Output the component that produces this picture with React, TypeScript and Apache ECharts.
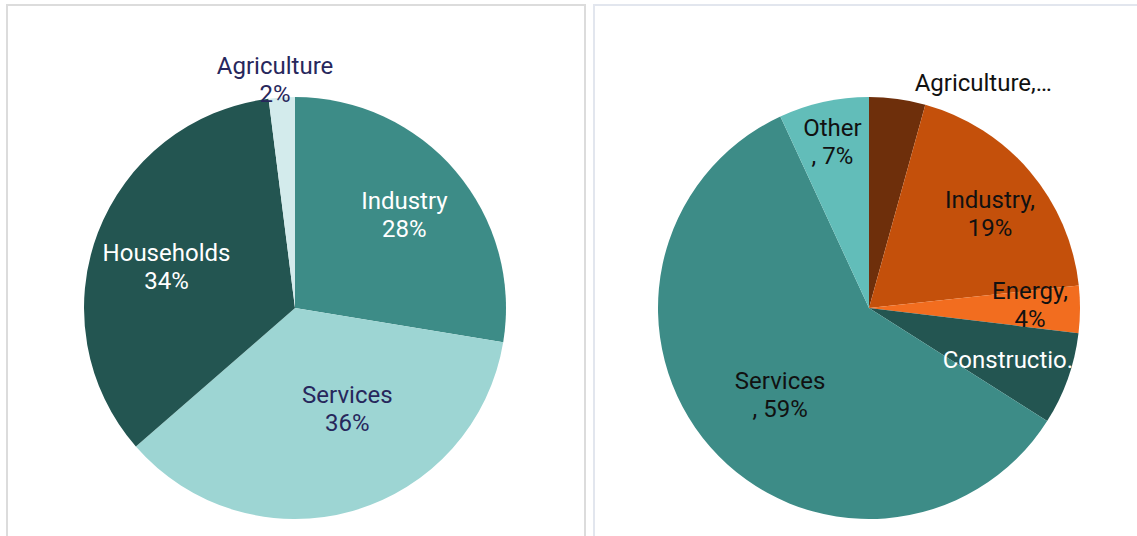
import React, { useEffect, useRef } from "react";
import * as echarts from "echarts";

// Left chart: energy consumption by sector
const leftCategories = ["Industry", "Services", "Households", "Agriculture"];
const leftValues = [27.6, 36.0, 34.4, 2.0];
const leftColors = ["#3d8c87", "#9dd5d3", "#235551", "#d3ebec"];
const leftLabelColors = ["#ffffff", "#27275c", "#ffffff", "#27275c"];
// label placement: fraction of radius, angular shift (deg) from slice middle
const leftLabelRadius = [0.68, 0.54, 0.64, 1.085];
const leftLabelShift = [0, -11.5, -3, -1.4];

// Right chart
const rightCategories = ["Agriculture", "Industry", "Energy", "Construction", "Services", "Other"];
const rightValues = [4.3, 19, 3.6, 7.1, 59.1, 6.9];
const rightColors = ["#6e2f0b", "#c4500b", "#f26d1f", "#235551", "#3d8c87", "#62bdb9"];
const rightLabelColors = ["#111111", "#111111", "#111111", "#ffffff", "#111111", "#111111"];
// how the label wraps: "comma" => "Name,\nX%", "lead" => "Name\n, X%", "trunc" => truncated single line
const rightLabelStyle = ["trunc", "comma", "comma", "trunc", "lead", "lead"];
const rightTruncated = ["Agriculture,…", "", "", "Constructio.", "", ""];
const rightLabelRadius = [1.195, 0.726, 0.763, 0.703, 0.59, 0.805];
const rightLabelShift = [19.2, 2.5, -1.5, 0.9, -3.2, 0];

const R = 211;
const CY = 308;
const LEFT_CX = 295;
const RIGHT_CX = 869;

function midAngles(values: number[]): number[] {
  const total = values.reduce((a, b) => a + b, 0);
  let acc = 0;
  return values.map((v) => {
    const mid = ((acc + v / 2) / total) * 360;
    acc += v;
    return mid;
  });
}

function makeLayout(values: number[], cx: number, radiusFrac: number[], shift: number[]) {
  const mids = midAngles(values);
  return (params: any) => {
    const i = params.dataIndex;
    const a = ((mids[i] + shift[i]) * Math.PI) / 180;
    const d = radiusFrac[i] * R;
    return { x: cx + d * Math.sin(a), y: CY - d * Math.cos(a), align: "center", verticalAlign: "middle" };
  };
}

export default function App() {
  const ref = useRef<HTMLDivElement>(null);
  useEffect(() => {
    if (!ref.current) return;
    const chart = echarts.init(ref.current, undefined, { renderer: "svg" });
    const labelBase = {
      show: true,
      position: "inside",
      fontFamily: "Roboto",
      fontSize: 24,
      lineHeight: 28,
      align: "center",
    };
    chart.setOption({
      animation: false,
      backgroundColor: "#ffffff",
      graphic: [
        {
          type: "rect",
          shape: { x: 7, y: 5, width: 578, height: 560 },
          style: { fill: "none", stroke: "#dcdcdc", lineWidth: 2 },
          silent: true,
        },
        {
          type: "rect",
          shape: { x: 594, y: 5, width: 600, height: 560 },
          style: { fill: "none", stroke: "#e2e6ee", lineWidth: 2 },
          silent: true,
        },
      ],
      series: [
        {
          type: "pie",
          center: [LEFT_CX, CY],
          radius: [0, R],
          startAngle: 90,
          clockwise: true,
          avoidLabelOverlap: false,
          itemStyle: { borderWidth: 0 },
          emphasis: { disabled: true },
          data: leftCategories.map((name, i) => ({
            name,
            value: leftValues[i],
            itemStyle: { color: leftColors[i] },
            label: { ...labelBase, color: leftLabelColors[i] },
          })),
          label: {
            ...labelBase,
            formatter: (p: any) => `${p.name}\n${Math.round(p.value)}%`,
          },
          labelLine: { show: false },
          labelLayout: makeLayout(leftValues, LEFT_CX, leftLabelRadius, leftLabelShift),
        },
        {
          type: "pie",
          center: [RIGHT_CX, CY],
          radius: [0, R],
          startAngle: 90,
          clockwise: true,
          avoidLabelOverlap: false,
          itemStyle: { borderWidth: 0 },
          emphasis: { disabled: true },
          data: rightCategories.map((name, i) => ({
            name,
            value: rightValues[i],
            itemStyle: { color: rightColors[i] },
            label: { ...labelBase, color: rightLabelColors[i] },
          })),
          label: {
            ...labelBase,
            formatter: (p: any) => {
              const i = p.dataIndex;
              const pct = Math.round(p.value);
              if (rightLabelStyle[i] === "trunc") return rightTruncated[i];
              if (rightLabelStyle[i] === "lead") return `${p.name}\n, ${pct}%`;
              return `${p.name},\n${pct}%`;
            },
          },
          labelLine: { show: false },
          labelLayout: makeLayout(rightValues, RIGHT_CX, rightLabelRadius, rightLabelShift),
        },
      ],
    });
    return () => chart.dispose();
  }, []);
  return (
    <div
      ref={ref}
      style={{ position: "fixed", left: 0, top: 0, width: 1137, height: 536, background: "#fff" }}
    />
  );
}
